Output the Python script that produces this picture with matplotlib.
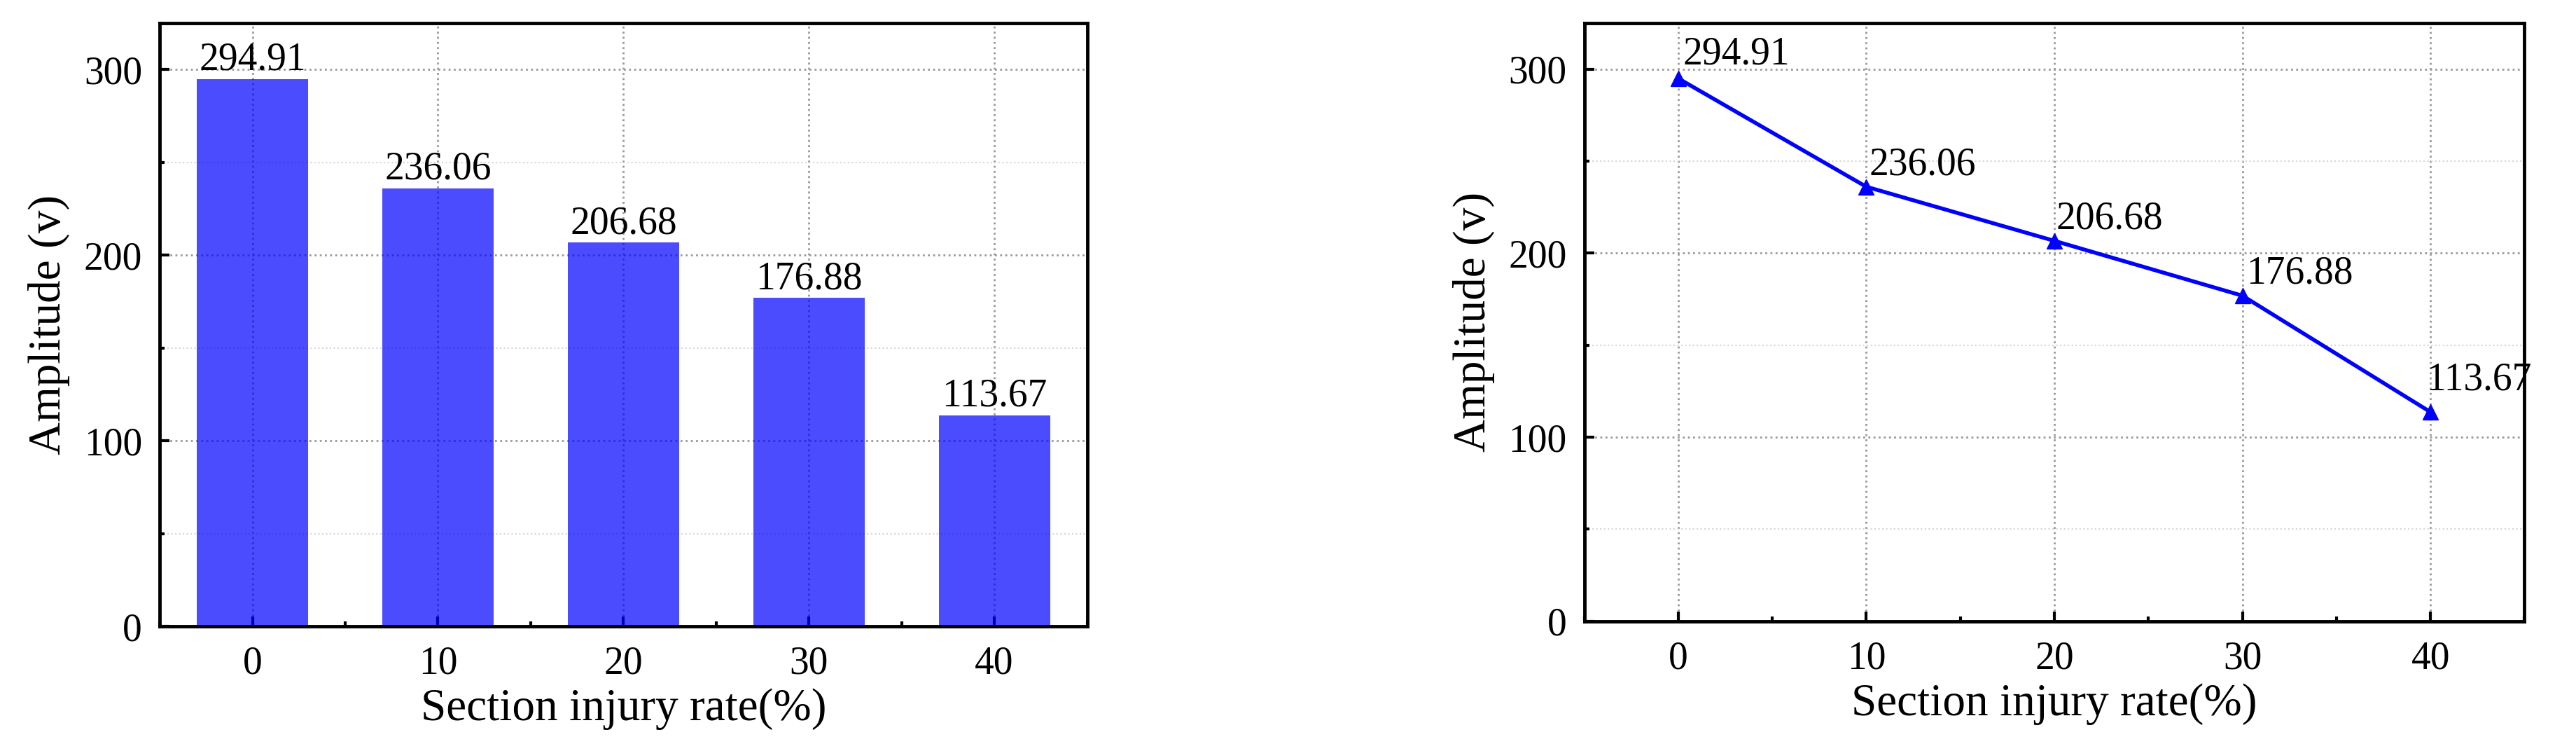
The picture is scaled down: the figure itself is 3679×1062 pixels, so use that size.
import numpy as np
import matplotlib
matplotlib.use("Agg")
import matplotlib.pyplot as plt
from matplotlib.ticker import MultipleLocator

plt.rcParams["font.family"] = ["Liberation Serif", "DejaVu Serif"]

injury_rate = [0, 10, 20, 30, 40]
amplitude = [294.91, 236.06, 206.68, 176.88, 113.67]
value_labels = ["294.91", "236.06", "206.68", "176.88", "113.67"]

# offsets (points) for the labels on the line chart
line_label_offsets = [(5, 6), (3, 4), (2, 4), (4, 4), (-4, 14)]

fig = plt.figure(figsize=(36.79, 10.62), dpi=100)
ax1 = fig.add_axes([0.062, 0.158, 0.360, 0.811])
ax2 = fig.add_axes([0.615, 0.165, 0.365, 0.804])


def style_axes(ax):
    ax.set_xlim(-5, 45)
    ax.set_ylim(0, 325)
    ax.xaxis.set_major_locator(MultipleLocator(10))
    ax.xaxis.set_minor_locator(MultipleLocator(5))
    ax.yaxis.set_major_locator(MultipleLocator(100))
    ax.yaxis.set_minor_locator(MultipleLocator(50))
    ax.tick_params(which="major", direction="in", length=10, width=3,
                   labelsize=40, pad=20)
    ax.tick_params(which="minor", direction="in", length=5, width=3)
    ax.tick_params(axis="y", which="major", pad=18)
    for s in ax.spines.values():
        s.set_linewidth(3.5)
    ax.set_axisbelow(True)
    ax.grid(True, axis="x", which="major", linestyle=":", color="#999999", linewidth=2)
    ax.grid(True, axis="y", which="major", linestyle=":", color="#999999", linewidth=2)
    ax.grid(True, axis="y", which="minor", linestyle=":", color="#d5d5d5", linewidth=1.5)
    ax.set_xlabel("Section injury rate(%)", fontsize=47, labelpad=6)
    ax.set_ylabel("Amplitude (v)", fontsize=47, labelpad=14)


style_axes(ax1)
bars = ax1.bar(injury_rate, amplitude, width=6, color="blue", alpha=0.7)
for x, y, t in zip(injury_rate, amplitude, value_labels):
    ax1.annotate(t, (x, y), xytext=(0, 1), textcoords="offset points",
                 ha="center", va="bottom", fontsize=40)

style_axes(ax2)
ax2.plot(injury_rate, amplitude, color="blue", linewidth=4, marker="^",
         markersize=16)
for (x, y, t), off in zip(zip(injury_rate, amplitude, value_labels), line_label_offsets):
    ax2.annotate(t, (x, y), xytext=off, textcoords="offset points",
                 ha="left", va="bottom", fontsize=40)

fig.savefig("out.png", dpi=100)
